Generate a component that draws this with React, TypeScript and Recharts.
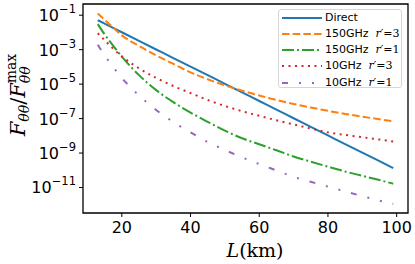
import React from 'react';
import { LineChart, Line, XAxis, YAxis, ReferenceArea } from 'recharts';

// fibre length in km
const distances = [13, 15, 17, 20, 25, 30, 35, 40, 45, 50, 55, 60, 65, 70, 75, 80, 85, 90, 95, 99];

// log10(F / F_max) for each series
const direct = [-1.29, -1.49, -1.69, -1.99, -2.49, -2.99, -3.49, -3.98, -4.48, -4.98, -5.48, -5.98, -6.48, -6.98, -7.48, -7.98, -8.48, -8.97, -9.47, -9.87];
const ghz150r3 = [-0.9, -1.27, -1.63, -2.17, -2.78, -3.33, -3.83, -4.32, -4.72, -5.07, -5.38, -5.66, -5.92, -6.15, -6.36, -6.55, -6.73, -6.89, -7.04, -7.16];
const ghz150r1 = [-1.52, -2.12, -2.65, -3.4, -4.48, -5.35, -6.05, -6.65, -7.19, -7.7, -8.14, -8.49, -8.84, -9.2, -9.5, -9.79, -10.07, -10.32, -10.57, -10.78];
const ghz10r3 = [-2.05, -2.45, -2.85, -3.39, -4.08, -4.64, -5.11, -5.52, -5.92, -6.27, -6.57, -6.84, -7.1, -7.34, -7.58, -7.8, -7.95, -8.08, -8.22, -8.33];
const ghz10r1 = [-2.72, -3.33, -3.88, -4.64, -5.66, -6.5, -7.2, -7.8, -8.36, -8.82, -9.25, -9.64, -10.01, -10.38, -10.67, -10.95, -11.23, -11.5, -11.76, -11.95];

const xTicks = [20, 40, 60, 80, 100];
const yTicks = [-11, -9, -7, -5, -3, -1];

const series = [
  { key: 'direct', band: 'Direct', r: null, values: direct, color: '#1f77b4', dash: undefined },
  { key: 'g150r3', band: '150GHz', r: 3, values: ghz150r3, color: '#ff7f0e', dash: '7.5 3.2' },
  { key: 'g150r1', band: '150GHz', r: 1, values: ghz150r1, color: '#2ca02c', dash: '12 3 2 3' },
  { key: 'g10r3', band: '10GHz', r: 3, values: ghz10r3, color: '#d62728', dash: '2 4.5' },
  { key: 'g10r1', band: '10GHz', r: 1, values: ghz10r1, color: '#9467bd', dash: '6 11 2 11 2 11' },
];

const data = distances.map((L, i) => {
  const row: Record<string, number> = { L };
  series.forEach((s) => { row[s.key] = s.values[i]; });
  return row;
});

const X_DOMAIN: [number, number] = [8.7, 103.3];
const Y_DOMAIN: [number, number] = [-12.48, -0.35];

const sans = 'DejaVu Sans, sans-serif';
const serif = 'DejaVu Serif, serif';

const YTick = (props: any) => {
  const { x, y, payload } = props;
  const exp = String(payload.value).replace('-', '\u2212');
  return (
    <text x={x} y={y + 6} textAnchor="end" fill="#000" fontFamily={sans} fontSize={16}>
      <tspan>10</tspan>
      <tspan dy={-8} fontSize={11.5}>{exp}</tspan>
    </text>
  );
};

const XTick = (props: any) => {
  const { x, y, payload } = props;
  return (
    <text x={x} y={y + 14} textAnchor="middle" fill="#000" fontFamily={sans} fontSize={16}>
      {payload.value}
    </text>
  );
};

const App: React.FC = () => {
  return (
    <div style={{ position: 'absolute', left: 0, top: 0, width: 415, height: 264, background: '#fff' }}>
      <LineChart width={415} height={264} data={data} margin={{ top: 4, right: 7, left: 0, bottom: 0 }}>
        <XAxis
          dataKey="L"
          type="number"
          domain={X_DOMAIN}
          ticks={xTicks}
          height={51}
          axisLine={false}
          tickSize={4}
          tickMargin={2}
          tickLine={{ stroke: '#000', strokeWidth: 1 }}
          tick={<XTick />}
          allowDataOverflow
        />
        <YAxis
          type="number"
          domain={Y_DOMAIN}
          ticks={yTicks}
          width={83}
          axisLine={false}
          tickSize={4}
          tickMargin={3}
          tickLine={{ stroke: '#000', strokeWidth: 1 }}
          tick={<YTick />}
          allowDataOverflow
        />
        {series.map((s) => (
          <Line
            key={s.key}
            dataKey={s.key}
            type="monotone"
            stroke={s.color}
            strokeWidth={2}
            strokeDasharray={s.dash}
            dot={false}
            activeDot={false}
            isAnimationActive={false}
          />
        ))}
        <ReferenceArea
          x1={X_DOMAIN[0]}
          x2={X_DOMAIN[1]}
          y1={Y_DOMAIN[0]}
          y2={Y_DOMAIN[1]}
          fill="none"
          stroke="#000"
          strokeWidth={1.3}
          ifOverflow="visible"
        />
      </LineChart>

      <svg width={415} height={264} style={{ position: 'absolute', left: 0, top: 0, pointerEvents: 'none' }}>
        <text x={255} y={257} textAnchor="middle" fontFamily={serif} fontSize={19} fill="#000">
          <tspan fontStyle="italic">L</tspan>
          <tspan>(km)</tspan>
        </text>
        <text transform="translate(25,95) rotate(-90)" textAnchor="middle" fontFamily={serif} fontSize={21} fill="#000">
          <tspan fontStyle="italic">F</tspan>
          <tspan fontStyle="italic" fontSize={14} dy={4}>θθ</tspan>
          <tspan dy={-4}>/</tspan>
          <tspan fontStyle="italic">F</tspan>
          <tspan fontStyle="italic" fontSize={14} dy={5}>θθ</tspan>
          <tspan fontSize={14} dx={-17} dy={-14}>max</tspan>
        </text>
      </svg>

      <div
        style={{
          position: 'absolute',
          left: 278,
          top: 9,
          width: 124,
          height: 79,
          boxSizing: 'border-box',
          border: '1px solid #d6d6d6',
          borderRadius: 3,
          background: 'rgba(255,255,255,0.8)',
        }}
      >
        {series.map((s, i) => (
          <div key={s.key} style={{ position: 'absolute', left: 0, top: 7.5 + 16.3 * i - 8, height: 16, width: 122 }}>
            <svg width={46} height={16} style={{ position: 'absolute', left: 0, top: 0 }}>
              <line x1={3} y1={8} x2={43} y2={8} stroke={s.color} strokeWidth={2} strokeDasharray={s.dash} />
            </svg>
            <span
              style={{
                position: 'absolute',
                left: 46,
                top: 0,
                lineHeight: '16px',
                fontSize: 11,
                fontFamily: sans,
                color: '#000',
                whiteSpace: 'pre',
              }}
            >
              {s.band}
              {s.r !== null && (
                <span style={{ fontFamily: serif }}>
                  {'  '}
                  <i>r</i>′=<span>{s.r}</span>
                </span>
              )}
            </span>
          </div>
        ))}
      </div>
    </div>
  );
};

export default App;
